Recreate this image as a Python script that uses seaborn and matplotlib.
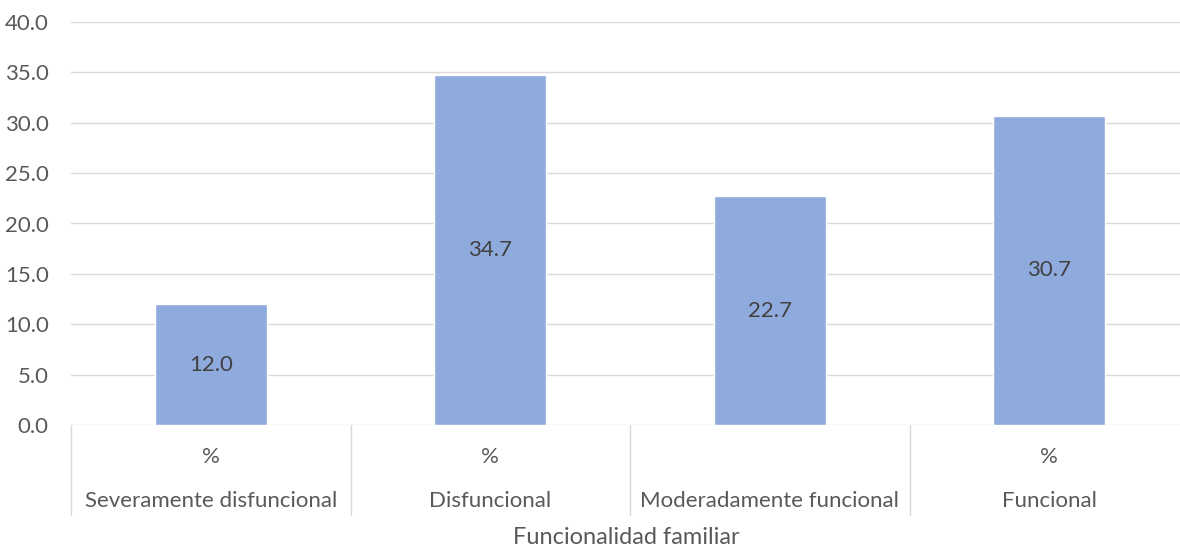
import matplotlib
matplotlib.use("Agg")
import matplotlib.pyplot as plt
import matplotlib.transforms as mtransforms
import seaborn as sns
import pandas as pd

categories = ["Severamente disfuncional", "Disfuncional", "Moderadamente funcional", "Funcional"]
values = [12.0, 34.7, 22.7, 30.7]
sub_labels = ["%", "%", "", "%"]
y_ticks = [0, 5, 10, 15, 20, 25, 30, 35, 40]
x_title = "Funcionalidad familiar"

sns.set_theme(style="white")
plt.rcParams['font.family'] = ['Lato', 'DejaVu Sans']

fig = plt.figure(figsize=(11.8, 5.48), dpi=100)
ax = fig.add_axes([71/1180, 1-425/548, 1118/1180, 403/548])

df = pd.DataFrame({"cat": categories, "val": values})
sns.barplot(data=df, x="cat", y="val", color="#8FAADC", saturation=1, width=0.4, ax=ax, zorder=3)

ax.set_ylim(0, 40)
ax.set_xlim(-0.5, 3.5)
ax.set_yticks(y_ticks)
ax.set_yticklabels([f"{t:.1f}" for t in y_ticks], fontsize=16, color="#595959")
ax.tick_params(axis="y", length=0, pad=16)
ax.set_xticks([])
ax.set_xlabel("")
ax.set_ylabel("")
ax.grid(axis="y", color="#D9D9D9", linewidth=1, zorder=0)
for s in ax.spines.values():
    s.set_visible(False)

for i, v in enumerate(values):
    ax.text(i, v/2, f"{v:.1f}", ha="center", va="center", fontsize=16, color="#404040", zorder=4)

trans = mtransforms.blended_transform_factory(ax.transData, ax.transAxes)
for xs in [-0.5, 0.5, 1.5, 2.5]:
    ax.plot([xs, xs], [0, -90/403], transform=trans, color="#D9D9D9", linewidth=1, clip_on=False)

for i, (c, s) in enumerate(zip(categories, sub_labels)):
    if s:
        ax.text(i, -32/403, s, transform=trans, ha="center", va="center", fontsize=16, color="#595959")
    ax.text(i, -76/403, c, transform=trans, ha="center", va="center", fontsize=16, color="#595959")

fig.text(626/1180, 1-538/548, x_title, ha="center", va="center", fontsize=17, color="#595959")

fig.savefig("out.png", dpi=100)
